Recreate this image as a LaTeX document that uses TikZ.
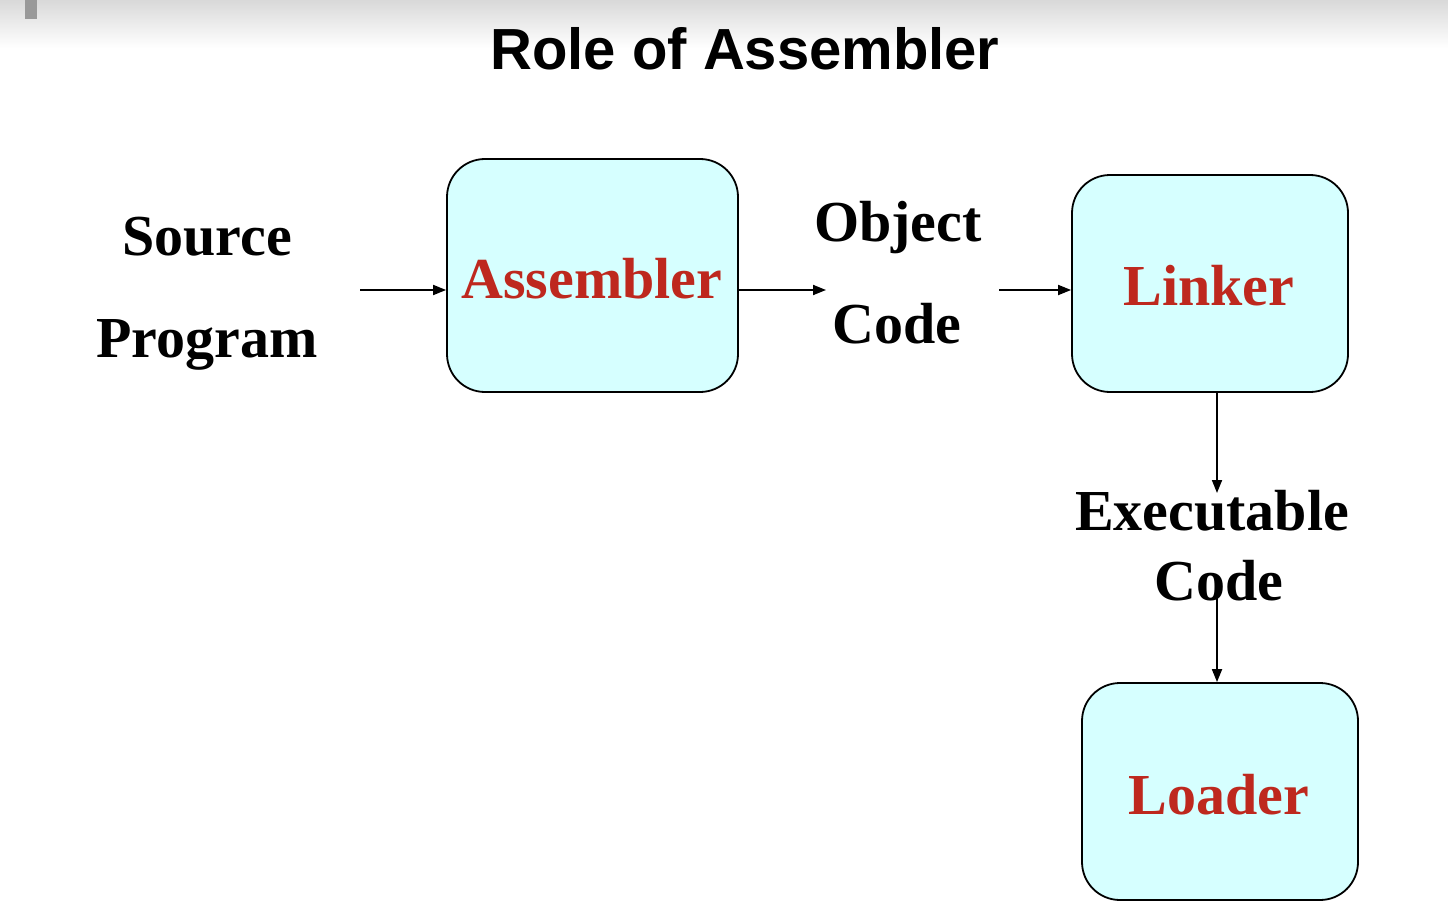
\documentclass[tikz,border=0pt]{standalone}
\usepackage{fontspec}
\setmainfont{Liberation Serif}
\newfontfamily\titlefont{Liberation Sans}
\usetikzlibrary{arrows.meta}
\definecolor{boxfill}{RGB}{214,255,255}
\definecolor{boxred}{RGB}{190,40,30}
\tikzset{
  stagebox/.style={draw=black, line width=1.8pt, fill=boxfill, rounded corners=38pt,
    inner sep=0pt},
  lbl/.style={inner sep=0pt, anchor=base, font=\fontsize{58}{60}\selectfont\bfseries},
  redlbl/.style={lbl, text=boxred},
  arr/.style={line width=1.8pt, -{Triangle[length=13pt,width=10pt]}}
}
\begin{document}
\begin{tikzpicture}[x=1pt,y=-1pt]
\useasboundingbox (0,0) rectangle (1448,912);
\fill[white] (0,0) rectangle (1448,912);
\shade[top color=black!15, bottom color=white] (0,0) rectangle (1448,48);
\fill[black!40] (25,0) rectangle (37,19);

\node[inner sep=0pt, anchor=base, font=\titlefont\fontsize{58}{60}\selectfont\bfseries] (title) at (745,70) {Role of Assembler};

\node[lbl] (src1) at (207,255) {Source};
\node[lbl] (src2) at (207,357) {Program};

\node[stagebox, minimum width=291pt, minimum height=233pt] (asm) at (592.5,275.5) {};
\node[redlbl] (asmt) at (592,298) {Assembler};

\node[lbl] (obj1) at (898,241) {Object};
\node[lbl] (obj2) at (897,343) {Code};

\node[stagebox, minimum width=276pt, minimum height=217pt] (lnk) at (1210,283.5) {};
\node[redlbl] (lnkt) at (1209,305) {Linker};

\node[lbl] (exe1) at (1212,530) {Executable};
\node[lbl] (exe2) at (1219,600) {Code};

\node[stagebox, minimum width=276pt, minimum height=217pt] (ldr) at (1220,791.5) {};
\node[redlbl] (ldrt) at (1219,814) {Loader};

\coordinate (a0) at (360,290);
\coordinate (a1) at (826,290);
\coordinate (a2) at (999,290);
\coordinate (a3) at (1217,493);
\coordinate (a4) at (1217,598);

\draw[arr] (a0) -- (a0 -| asm.west);
\draw[arr] (a1 -| asm.east) -- (a1);
\draw[arr] (a2) -- (a2 -| lnk.west);
\draw[arr] (a3 |- lnk.south) -- (a3);
\draw[arr] (a4) -- (a4 |- ldr.north);
\end{tikzpicture}
\end{document}
